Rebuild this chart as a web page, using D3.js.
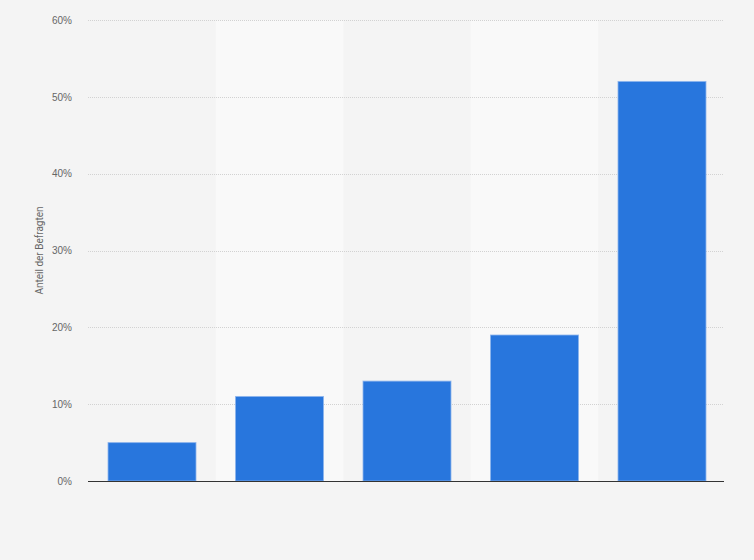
<!DOCTYPE html>
<html>
<head>
<meta charset="utf-8">
<script src="https://cdn.jsdelivr.net/npm/d3@7"></script>
<style>
  html, body { margin: 0; padding: 0; background: #f4f4f4; }
  svg { display: block; font-family: Roboto, "Liberation Sans", Arial, sans-serif; }
</style>
</head>
<body>
<svg id="chart" width="754" height="560"></svg>
<script>
const categories = ["A", "B", "C", "D", "E"];
const values = [5, 11, 13, 19, 52];
const yTicks = [0, 10, 20, 30, 40, 50, 60];
const yLabel = "Anteil der Befragten";

const svg = d3.select("#chart");
const W = 754, H = 560;
const m = { left: 88, right: 30, top: 20, bottom: 79 };

svg.append("rect").attr("width", W).attr("height", H).attr("fill", "#f4f4f4");

const x = d3.scaleBand().domain(categories).range([m.left, 726])
  .paddingInner(0.31).paddingOuter(0.157);
const y = d3.scaleLinear().domain([0, 60]).range([H - m.bottom, m.top]);

// alternating column stripes
const step = x.step();
svg.append("g").selectAll("rect").data(categories.filter((d, i) => i % 2 === 1))
  .join("rect")
  .attr("x", d => x(d) - step * x.paddingInner() / 2)
  .attr("y", y(60))
  .attr("width", step)
  .attr("height", y(0) - y(60))
  .attr("fill", "#f9f9f9");

// gridlines
svg.append("g").selectAll("line").data(yTicks.filter(d => d > 0))
  .join("line")
  .attr("x1", m.left).attr("x2", W - m.right)
  .attr("y1", d => Math.round(y(d)) + 0.5).attr("y2", d => Math.round(y(d)) + 0.5)
  .attr("stroke", "#d2d2d2").attr("stroke-width", 1).attr("stroke-dasharray", "1,1");

// y axis
const yAxis = d3.axisLeft(y).tickValues(yTicks).tickFormat(d => d + "%").tickSize(0).tickPadding(16);
const ya = svg.append("g").attr("transform", `translate(${m.left},0)`).call(yAxis);
ya.select(".domain").remove();
ya.selectAll("text").attr("fill", "#666").attr("font-size", "10px");

// bars
svg.append("g").selectAll("rect").data(categories)
  .join("rect")
  .attr("x", d => x(d))
  .attr("y", (d, i) => y(values[i]))
  .attr("width", x.bandwidth())
  .attr("height", (d, i) => y(0) - y(values[i]))
  .attr("fill", "#2876dd")
  .attr("stroke", "#8cb4ec").attr("stroke-width", 1).attr("stroke-opacity", 0.8);

// baseline
svg.append("line")
  .attr("x1", m.left).attr("x2", W - m.right)
  .attr("y1", y(0) + 0.5).attr("y2", y(0) + 0.5)
  .attr("stroke", "#333").attr("stroke-width", 1.2);

// y label
svg.append("text")
  .attr("transform", `translate(43,${(y(0) + y(60)) / 2}) rotate(-90)`)
  .attr("text-anchor", "middle")
  .attr("fill", "#666").attr("font-size", "10px")
  .text(yLabel);
</script>
</body>
</html>
